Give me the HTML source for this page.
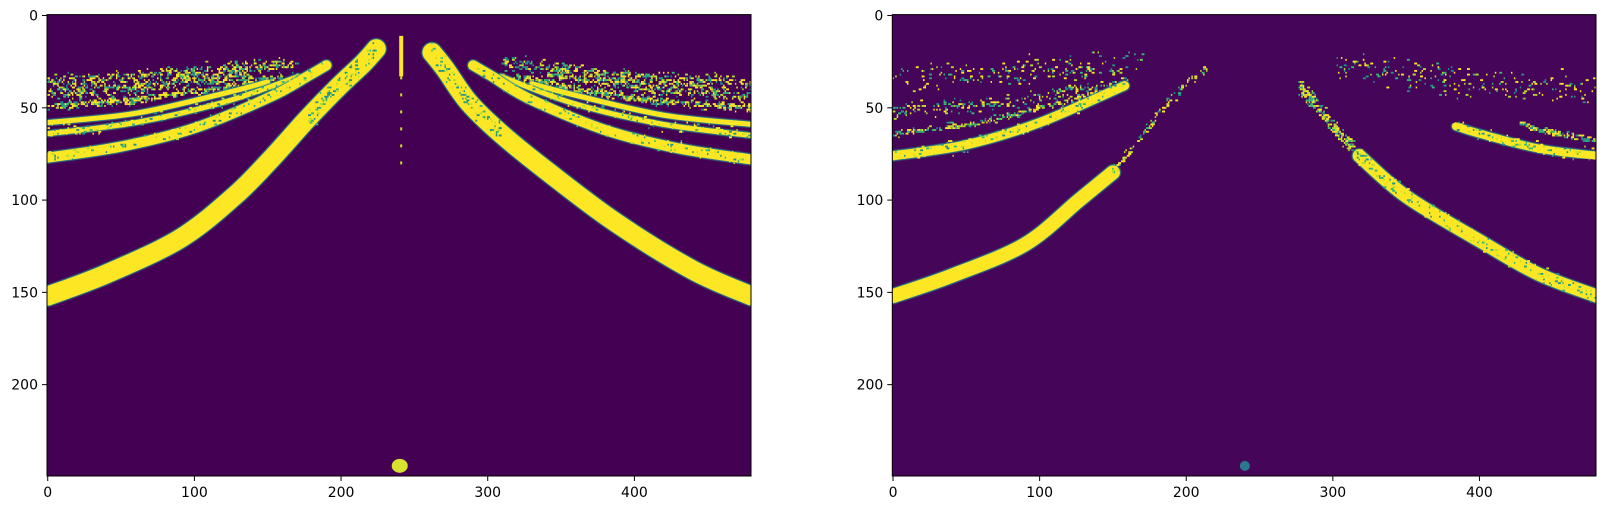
<!DOCTYPE html>
<html><head><meta charset="utf-8">
<style>
html,body{margin:0;padding:0;background:#fff;}
svg{display:block;font-family:"DejaVu Sans","Liberation Sans",sans-serif;}
</style></head>
<body>
<svg id="fig" width="1606" height="510" viewBox="0 0 1606 510" xmlns="http://www.w3.org/2000/svg">
<defs>
<clipPath id="clipL"><rect x="47" y="14.6" width="704" height="461.4"/></clipPath>
<clipPath id="clipR"><rect x="892.3" y="14.6" width="703.7" height="461.4"/></clipPath>
<filter id="soft"><feGaussianBlur stdDeviation="0.6"/></filter>
</defs>
<g id="axL"></g>
<g id="axR"></g>
</svg>
<script>
// ---- data (image coords: x column 0..479, y row 0..249) ----
const xTicks = [0,100,200,300,400];
const yTicks = [0,50,100,150,200];
// left (ground truth) image
const gtLeftLane  = [[0,152],[40,140],[90,121],[127,98],[152,78],[177,56],[199,38],[215,26],[224,18]];
const gtRightLane = [[480,152],[440,138],[387,112],[340,84],[309,64],[287,47],[271,29],[262,20]];
const gtStripeL1 = [[0,77],[50,71],[100,61],[152,44],[177,33],[190,27]];
const gtStripeL2 = [[0,64],[60,58],[120,47],[171,33]];
const gtStripeL3 = [[0,58],[60,53],[121,42],[150,36]];
const gtStripeL4 = [[0,49],[60,46],[120,39],[160,33]];
const gtStripeL5 = [[0,42],[60,39],[140,32]];
const gtStripeL6 = [[0,36],[80,32],[170,26]];
const gtStripeR1 = [[480,78],[430,72],[380,62],[328,45],[303,33],[290,27]];
const gtStripeR2 = [[480,65],[420,59],[360,48],[309,33]];
const gtStripeR3 = [[480,59],[420,54],[359,43],[330,37]];
const gtStripeR4 = [[480,50],[420,47],[360,40],[320,33]];
const gtStripeR5 = [[480,43],[420,40],[340,32]];
const gtStripeR6 = [[480,37],[400,33],[310,26]];
const gtCenter = [[241,11],[241,33]];
const gtBlob = [240,244];
// right (prediction) image
const prLeftLane  = [[0,152],[40,141],[90,124],[127,100],[150,85]];
const prLeftTail  = [[150,85],[165,70],[183,51],[199,38],[215,28]];
const prRightLane = [[480,152],[440,140],[400,122],[350,98],[318,76]];
const prRightTail = [[318,76],[300,60],[287,47],[277,38]];
const prStripeL1 = [[0,76],[50,70],[100,58],[158,38]];
const prStripeL2 = [[0,64],[60,58],[110,48],[150,40]];
const prStripeR1 = [[480,76],[440,72],[400,64],[384,60]];
const prStripeR2 = [[480,68],[440,62],[427,58]];
const prBlob = [240,244];

// ---- axes ----
const AX = {
  L:{x0:47,x1:751,y0:14.6,y1:476},
  R:{x0:892.3,x1:1596,y0:14.6,y1:476}
};
const NS="http://www.w3.org/2000/svg";
function sx(a,x){return a.x0+(x+0.5)*(a.x1-a.x0)/480;}
function sy(a,y){return a.y0+(y+0.5)*(a.y1-a.y0)/250;}
function el(tag,attrs,parent){const e=document.createElementNS(NS,tag);for(const k in attrs)e.setAttribute(k,attrs[k]);parent.appendChild(e);return e;}
function pathD(a,pts){
  const p=pts.map(q=>[sx(a,q[0]),sy(a,q[1])]);
  let d="M"+p[0][0]+","+p[0][1];
  for(let i=0;i<p.length-1;i++){
    const p0=p[i-1]||p[i],p1=p[i],p2=p[i+1],p3=p[i+2]||p2;
    const c1=[p1[0]+(p2[0]-p0[0])/6,p1[1]+(p2[1]-p0[1])/6];
    const c2=[p2[0]-(p3[0]-p1[0])/6,p2[1]-(p3[1]-p1[1])/6];
    d+=" C"+c1+" "+c2+" "+p2;
  }
  return d;
}
function yAt(pts,x){
  let s=pts.slice().sort((u,v)=>u[0]-v[0]);
  if(x<=s[0][0])return s[0][1];
  for(let i=0;i<s.length-1;i++){if(x<=s[i+1][0]){const t=(x-s[i][0])/(s[i+1][0]-s[i][0]);return s[i][1]+t*(s[i+1][1]-s[i][1]);}}
  return s[s.length-1][1];
}
let seed=12345;
function rnd(){seed|=0;seed=seed+0x6D2B79F5|0;let t=Math.imul(seed^seed>>>15,1|seed);t=t+Math.imul(t^t>>>7,61|t)^t;return((t^t>>>14)>>>0)/4294967296;}
function gauss(){return (rnd()+rnd()+rnd()-1.5)*1.4;}
const SPK=["#fde725","#fde725","#b5de2b","#35b779","#21918c"];
function speckle(g,a,pts,n,spread,name){
  const xs=pts.map(p=>p[0]);const lo=Math.min(...xs),hi=Math.max(...xs);
  const grp=el("g",{},g);
  
  
  const w=(a.x1-a.x0)/480,h=(a.y1-a.y0)/250;
  for(let i=0;i<n;i++){
    const x=Math.round(lo+rnd()*(hi-lo));
    const y=Math.round(yAt(pts,x)+gauss()*spread);
    el("rect",{x:sx(a,x)-w/2,y:sy(a,y)-h/2,width:w*(rnd()<0.6?1:2),height:h,fill:SPK[Math.floor(rnd()*SPK.length)]},grp);
  }
}
function stroke(g,a,pts,w,name){
  const grp=el("g",{},g);
  
  
  el("path",{d:pathD(a,pts),fill:"none",stroke:"#2a8f8a",'stroke-width':w+2,'stroke-linecap':"round",filter:"url(#soft)"},grp);
  el("path",{d:pathD(a,pts),fill:"none",stroke:"#fde725",'stroke-width':w,'stroke-linecap':"round"},grp);
}
function axes(g,a,bg){
  const img=el("g",{'clip-path':"url(#clip"+(a===AX.L?"L":"R")+")"},g);
  
  
  const r=el("rect",{x:a.x0,y:a.y0,width:a.x1-a.x0,height:a.y1-a.y0,fill:bg},img);
  
  
  return img;
}
function frame(g,a){
  const f=el("rect",{x:a.x0,y:a.y0,width:a.x1-a.x0,height:a.y1-a.y0,fill:"none",stroke:"#000",'stroke-width':1},g);
  
  
  xTicks.forEach(v=>{
    const X=sx(a,v);
    const t=el("line",{x1:X,x2:X,y1:a.y1,y2:a.y1+5,stroke:"#000",'stroke-width':1},g);
    
    
    const l=el("text",{x:X,y:a.y1+21,'text-anchor':"middle",'font-size':"14",fill:"#000"},g);
    l.textContent=v;
    
    
  });
  yTicks.forEach(v=>{
    const Y=sy(a,v);
    const t=el("line",{x1:a.x0-5,x2:a.x0,y1:Y,y2:Y,stroke:"#000",'stroke-width':1},g);
    
    
    const l=el("text",{x:a.x0-9,y:Y+5,'text-anchor':"end",'font-size':"14",fill:"#000"},g);
    l.textContent=v;
    
    
  });
}
// ---- left image ----
(function(){
  const a=AX.L,g=document.getElementById("axL");
  const img=axes(g,a,"#440154");
  [gtStripeL6,gtStripeL5,gtStripeR6,gtStripeR5].forEach(s=>speckle(img,a,s,380,2.6,'top-speckle-band'));
  [gtStripeL4,gtStripeR4].forEach(s=>speckle(img,a,s,420,1.4,'thin-stripe-speckle'));
  stroke(img,a,gtStripeL3,5,'stripe-left-3');stroke(img,a,gtStripeR3,5,'stripe-right-3');
  stroke(img,a,gtStripeL2,5,'stripe-left-2');stroke(img,a,gtStripeR2,5,'stripe-right-2');
  stroke(img,a,gtStripeL1,10,'stripe-left-1');stroke(img,a,gtStripeR1,10,'stripe-right-1');
  [gtStripeL1,gtStripeR1,gtStripeL2,gtStripeR2].forEach(s=>speckle(img,a,s,120,2.5,'stripe-edge-speckle'));
  stroke(img,a,gtLeftLane,19,'left-lane');stroke(img,a,gtRightLane,19,'right-lane');
  speckle(img,a,gtLeftLane.slice(5),160,4,'left-lane-edge-speckle');
  speckle(img,a,gtRightLane.slice(4),160,4,'right-lane-edge-speckle');
  const c=el("line",{x1:sx(a,gtCenter[0][0]),x2:sx(a,gtCenter[1][0]),y1:sy(a,gtCenter[0][1]),y2:sy(a,gtCenter[1][1]),stroke:"#fde725",'stroke-width':4},img);
  
  
  const dots=el("line",{x1:sx(a,241),x2:sx(a,241),y1:sy(a,33),y2:sy(a,84),stroke:"#c8e020",'stroke-width':2,'stroke-dasharray':"3 14"},img);
  
  
  const b=el("ellipse",{cx:sx(a,gtBlob[0]),cy:sy(a,gtBlob[1]),rx:8,ry:7,fill:"#d8e030"},img);
  
  
  frame(g,a);
})();
// ---- right image ----
(function(){
  const a=AX.R,g=document.getElementById("axR");
  const img=axes(g,a,"#450559");
  speckle(img,a,[[0,34],[80,31],[170,26]],200,5,'top-speckle-left');
  speckle(img,a,[[480,40],[400,36],[300,28]],220,6,'top-speckle-right');
  speckle(img,a,[[0,52],[80,47],[160,36]],220,2.5,'mid-speckle-left');
  speckle(img,a,prStripeL2,220,1.2,'stripe-left-2');
  stroke(img,a,prStripeL1,9,'stripe-left-1');
  speckle(img,a,prStripeR2,140,1.2,'stripe-right-2');
  stroke(img,a,prStripeR1,8,'stripe-right-1');
  speckle(img,a,prStripeL1,120,2.5,'stripe-left-speckle');
  speckle(img,a,prStripeR1,90,2.5,'stripe-right-speckle');
  stroke(img,a,prLeftLane,14,'left-lane');
  stroke(img,a,prRightLane,13,'right-lane');
  speckle(img,a,prLeftTail,110,2,'left-lane-tail');
  speckle(img,a,prRightTail,260,3,'right-lane-tail');
  speckle(img,a,prRightLane,200,3,'right-lane-noise');
  const b=el("ellipse",{cx:sx(a,prBlob[0]),cy:sy(a,prBlob[1]),rx:5,ry:5,fill:"#2a788e"},img);
  
  
  frame(g,a);
})();
</script>
</body></html>
